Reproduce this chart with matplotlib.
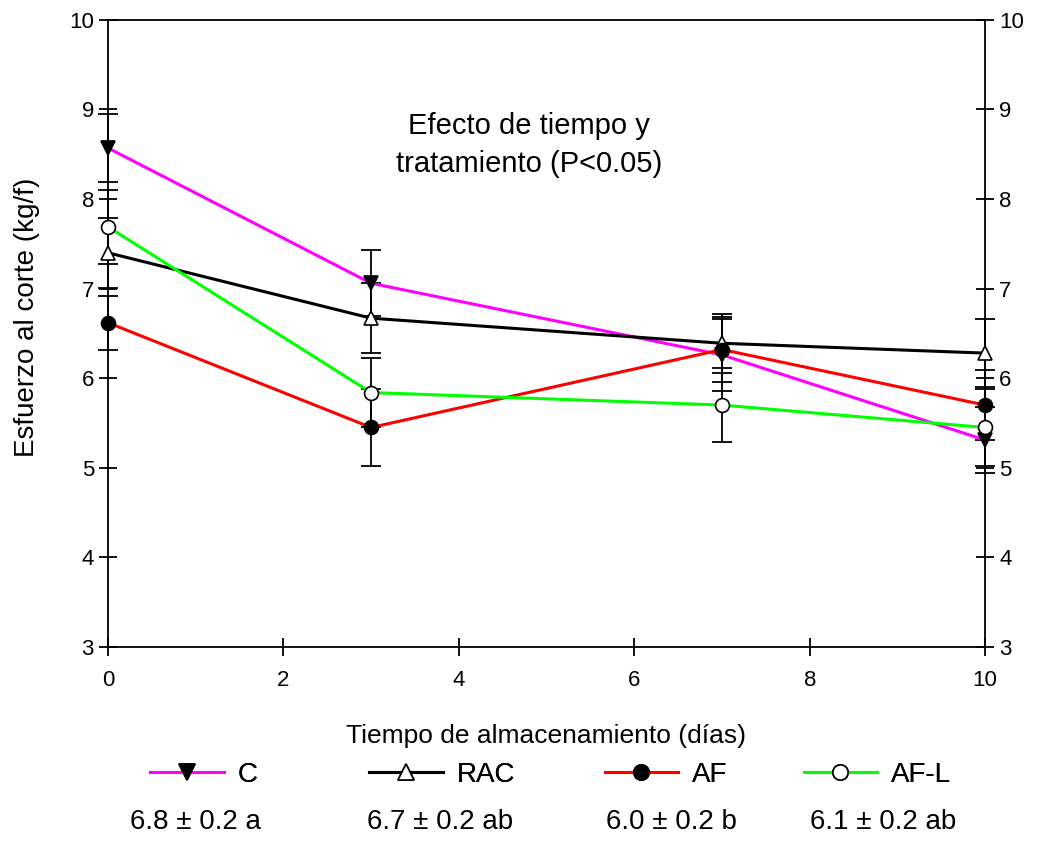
import matplotlib.pyplot as plt
from matplotlib.lines import Line2D

plt.rcParams['font.family'] = ['Liberation Sans', 'DejaVu Sans']

# ======================================
# DATA
# ======================================

days = [0, 3, 7, 10]

c_mean = [8.57, 7.06, 6.26, 5.31]
c_err = [0.38, 0.37, 0.40, 0.37]

rac_mean = [7.40, 6.67, 6.39, 6.28]
rac_err = [0.39, 0.39, 0.33, 0.38]

af_mean = [6.62, 5.45, 6.32, 5.70]
af_err = [0.30, 0.43, 0.36, 0.39]

afl_mean = [7.69, 5.84, 5.70, 5.45]
afl_err = [0.41, 0.38, 0.41, 0.43]

labels = ["C", "RAC", "AF", "AF-L"]
stats = ["6.8 ± 0.2 a", "6.7 ± 0.2 ab", "6.0 ± 0.2 b", "6.1 ± 0.2 ab"]


# ======================================
# PLOT
# ======================================

fig = plt.figure(figsize=(10.37, 8.43), dpi=100)
ax = fig.add_axes([0.104, 0.2325, 0.846, 0.744])

series = [
    (c_mean, c_err, "#FF00FF", "v", "black"),
    (rac_mean, rac_err, "black", "^", "white"),
    (af_mean, af_err, "#FF0000", "o", "black"),
    (afl_mean, afl_err, "#00FF00", "o", "white"),
]

handles = []
for mean, err, color, marker, face in series:
    eb = ax.errorbar(days, mean, yerr=err, fmt="none", ecolor="black",
                     elinewidth=1.3, capsize=7, capthick=1.3, zorder=2)
    for art in eb.lines[1] + eb.lines[2]:
        art.set_clip_on(False)
    ax.plot(days, mean, color=color, linewidth=2.2, zorder=3, clip_on=False)
    ax.plot(days, mean, linestyle="none", marker=marker, markersize=10,
            markerfacecolor=face, markeredgecolor="black",
            markeredgewidth=1.2, zorder=4, clip_on=False)
    handles.append(Line2D([0], [0], color=color, linewidth=2.2,
                          marker=marker, markersize=11,
                          markerfacecolor=face, markeredgecolor="black",
                          markeredgewidth=1.2))

ax.set_xlim(0, 10)
ax.set_ylim(3, 10)
ax.set_xticks([0, 2, 4, 6, 8, 10])
ax.set_yticks(range(3, 11))

ax.tick_params(axis="both", direction="inout", length=13, width=1.3,
               labelsize=16, right=True, labelright=True)
ax.tick_params(axis="x", pad=10)
for spine in ax.spines.values():
    spine.set_linewidth(1.3)

ax.set_xlabel("Tiempo de almacenamiento (días)", fontsize=19, labelpad=24)
ax.set_ylabel("Esfuerzo al corte (kg/f)", fontsize=20)
ax.yaxis.set_label_coords(-0.077, 0.525)

ax.text(4.8, 8.6, "Efecto de tiempo y\ntratamiento (P<0.05)",
        fontsize=21, ha="center", va="center", linespacing=1.45)


# ======================================
# LEGEND AND STATS
# ======================================

legend_x = [0.145, 0.356, 0.583, 0.775]
for h, lab, x in zip(handles, labels, legend_x):
    leg = fig.legend([h], [lab], loc="center left",
                     bbox_to_anchor=(x, 0.081), frameon=False,
                     fontsize=20, handlelength=2.65, handletextpad=0.5,
                     borderpad=0, borderaxespad=0)
    fig.add_artist(leg)

stats_x = [0.188, 0.424, 0.647, 0.852]
for s, x in zip(stats, stats_x):
    fig.text(x, 0.025, s, fontsize=20, ha="center", va="center")

fig.savefig("out.png", dpi=100)
